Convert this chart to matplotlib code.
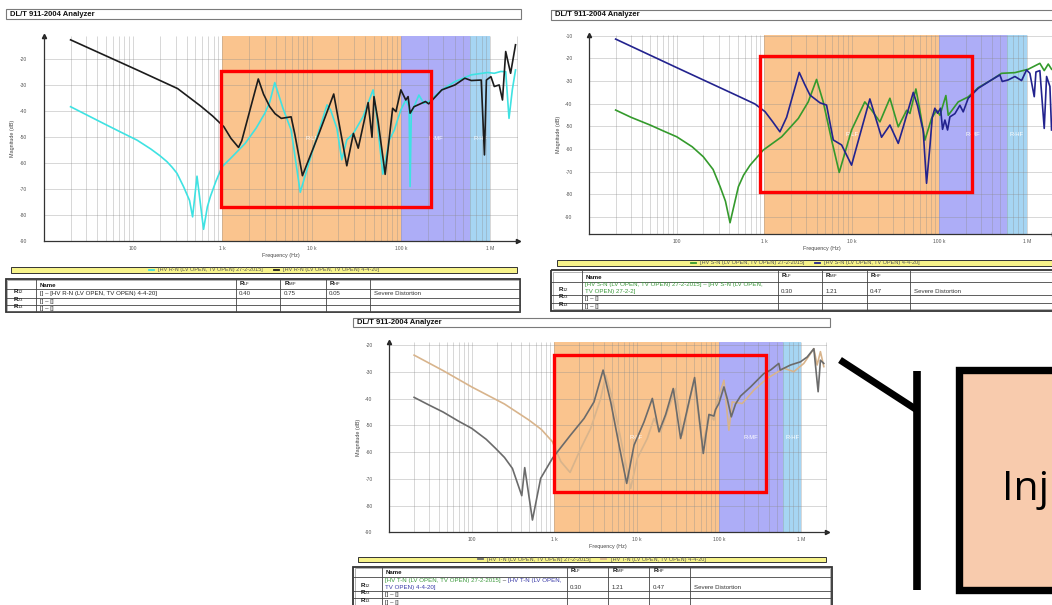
import matplotlib
matplotlib.use("Agg")
import matplotlib.pyplot as plt
import matplotlib.transforms as mtransforms
from matplotlib.patches import Rectangle
from matplotlib.ticker import NullLocator

plt.rcParams["font.family"] = ["Liberation Sans", "DejaVu Sans"]
plt.rcParams["mathtext.fontset"] = "custom"
plt.rcParams["mathtext.rm"] = "Liberation Sans"
plt.rcParams["mathtext.bf"] = "Liberation Sans:bold"

W, H = 1052, 605

# ---- sweep data: frequency (Hz) and magnitude (dB) per winding / test date ----
rn15_f = [20, 47, 71, 111, 158, 200, 240, 275, 311, 369, 430, 465, 521, 617, 680, 735,
          850, 993, 1300, 1810, 2400, 3000, 3400, 3870, 4780, 5900, 7470, 9800, 14900,
          16300, 19200, 21800, 24800, 29400, 37800, 48800, 53100, 62800, 74300, 84500,
          91800, 100000, 113500, 123600, 126800, 130900, 159200, 180700, 205100, 287700,
          403600, 615200, 937600, 1112000, 1315000, 1493000, 1626000, 1770000, 1923000]
rn15_db = [-38.3, -44.8, -47.9, -51.2, -54.6, -57.2, -59.5, -61.7, -64.0, -69.2, -74.5,
           -80.8, -65.1, -85.6, -77.0, -73.0, -67.0, -61.5, -57.5, -52.4, -46.5, -40.8,
           -36.5, -29.0, -38.9, -47.3, -71.3, -57.6, -37.6, -39.5, -46.6, -58.8, -51.1,
           -48.6, -42.1, -31.8, -40.8, -64.3, -51.1, -47.3, -43.4, -39.5, -35.7, -38.3,
           -69.1, -40.8, -33.8, -37.0, -36.3, -31.8, -28.6, -26.0, -25.1, -25.4, -24.7,
           -24.8, -42.8, -31.8, -24.1]

rn20_f = [20, 111, 316, 570, 780, 1040, 1250, 1520, 1650, 2530, 2900, 3400, 3900, 4580,
          5900, 6500, 7900, 12000, 17700, 24800, 29400, 33300, 43000, 47500, 50000, 55300,
          66700, 80900, 88100, 100000, 113500, 120500, 126800, 140300, 188400, 205100,
          287700, 403600, 520000, 615200, 794300, 863000, 907800, 1020000, 1112000,
          1262000, 1374000, 1493000, 1694000, 1923000]
rn20_db = [-12.5, -24.1, -31.3, -38.0, -41.9, -46.0, -50.5, -54.0, -51.5, -27.6, -33.5,
           -38.3, -41.0, -42.8, -42.2, -49.0, -64.9, -49.0, -33.4, -61.1, -48.6, -54.3,
           -36.7, -50.1, -34.4, -43.4, -64.4, -38.9, -40.2, -31.8, -35.7, -34.4, -40.8,
           -38.3, -36.3, -37.2, -31.8, -29.9, -27.3, -28.2, -28.0, -56.9, -28.0, -26.7,
           -30.5, -29.9, -35.7, -17.0, -25.4, -14.4]

sn15_f = [20, 30, 49.5, 70, 100, 150, 201, 260, 313, 360, 406, 506, 580, 689, 977, 1580,
          2450, 3180, 3960, 4720, 5890, 7190, 9950, 14100, 16900, 21000, 27300, 34000,
          42400, 46200, 54100, 60100, 68500, 81700, 93300, 101800, 119100, 126800, 164800,
          214300, 279300, 396300, 515200, 732800, 1040000, 1413000, 1585000, 1762000,
          1923000]
sn15_db = [-42.8, -46.0, -49.4, -52.0, -54.6, -59.0, -63.4, -69.0, -76.6, -83.0, -92.5,
           -76.6, -71.5, -67.1, -60.4, -54.6, -46.5, -39.2, -29.3, -39.2, -56.1, -70.3,
           -51.6, -39.2, -42.9, -48.0, -37.6, -50.2, -42.9, -44.3, -33.5, -42.9, -56.1,
           -46.5, -42.9, -45.1, -36.4, -45.1, -39.2, -37.0, -32.9, -29.5, -26.6, -26.3,
           -24.8, -22.2, -25.4, -22.5, -24.8]

sn20_f = [20, 100, 500, 781, 1020, 1250, 1510, 1800, 2510, 2900, 3330, 4330, 5150, 6150,
          7660, 9950, 16100, 21900, 27300, 34000, 38800, 50500, 56500, 65600, 71600, 78200,
          83200, 89100, 95700, 103500, 109100, 116100, 124500, 132400, 151000, 172200,
          187900, 214300, 279300, 396300, 493200, 524800, 615200, 732800, 873000, 995400,
          1086000, 1219000, 1274000, 1413000, 1585000, 1687000, 1841000, 1923000]
sn20_db = [-11.5, -24.1, -36.6, -40.1, -43.5, -48.0, -52.4, -46.0, -26.2, -31.5, -36.2,
           -39.6, -40.6, -56.0, -58.2, -67.1, -37.9, -54.8, -49.4, -57.5, -50.2, -35.0,
           -40.9, -52.0, -75.1, -59.0, -46.0, -42.0, -44.2, -42.0, -51.3, -47.2, -51.6,
           -45.8, -44.4, -40.7, -43.6, -37.6, -33.2, -29.5, -27.3, -30.2, -29.5, -28.0,
           -29.8, -25.1, -26.6, -36.9, -26.0, -25.4, -50.9, -28.0, -32.4, -51.6]

tn15_f = [20, 30, 45, 70, 100, 150, 195, 250, 312, 405, 440, 546, 687, 955, 1096, 1585,
          2310, 3050, 3930, 4860, 6140, 7600, 9330, 12330, 15560, 18750, 22600, 27900,
          34300, 43300, 50700, 64600, 75700, 86900, 91200, 100000, 115100, 126200, 141300,
          159200, 183200, 242100, 350800, 422700, 533300, 553400, 739600, 977200, 1178000,
          1419000, 1600000, 1706000, 1875000]
tn15_db = [-39.5, -42.3, -45.0, -48.5, -51.1, -55.2, -58.6, -62.0, -66.1, -76.3, -65.8,
           -85.4, -69.8, -62.3, -59.9, -53.6, -47.4, -41.2, -29.3, -41.2, -57.4, -71.7,
           -57.4, -48.7, -39.9, -52.4, -45.9, -36.2, -54.9, -41.2, -32.1, -60.5, -45.9,
           -46.5, -44.0, -41.8, -35.6, -40.0, -46.8, -42.0, -39.0, -35.6, -30.6, -29.3,
           -26.8, -29.3, -27.4, -26.2, -24.4, -21.3, -37.4, -25.6, -26.8]

tn20_f = [20, 45, 100, 250, 495, 700, 955, 1205, 1563, 2100, 2780, 3680, 4230, 5090, 6430,
          8490, 10230, 13520, 16290, 19630, 23660, 29850, 35970, 49770, 62810, 77800,
          86900, 95500, 115100, 132100, 145200, 191900, 265500, 385500, 613800, 810900,
          1072000, 1419000, 1556000, 1706000, 1875000]
tn20_db = [-23.7, -29.5, -35.6, -42.0, -48.0, -51.5, -56.1, -63.5, -67.6, -58.7, -51.1,
           -39.9, -31.2, -39.9, -54.9, -73.6, -62.3, -54.9, -47.4, -52.4, -44.9, -36.2,
           -53.6, -33.1, -57.4, -46.1, -48.0, -41.0, -33.1, -51.8, -41.2, -41.8, -36.8,
           -32.4, -28.6, -29.9, -26.8, -21.3, -27.4, -22.4, -28.0]

# legend / table text
rn_labels = ["[HV R-N (LV OPEN, TV OPEN) 27-2-2015]", "[HV R-N (LV OPEN, TV OPEN) 4-4-20]"]
sn_labels = ["[HV S-N (LV OPEN, TV OPEN) 27-2-2015]", "[HV S-N (LV OPEN, TV OPEN) 4-4-20]"]
tn_labels = ["[HV T-N (LV OPEN, TV OPEN) 27-2-2015]", "[HV T-N (LV OPEN, TV OPEN) 4-4-20]"]
rn_ratios = [0.40, 0.75, 0.05]
sn_ratios = [0.30, 1.21, 0.47]
tn_ratios = [0.30, 1.21, 0.47]
verdict = "Severe Distortion"

# frequency bands (Hz)
band_edges = [1e3, 1e5, 6e5, 1e6]
band_names = ["R-LF", "R-MF", "R-HF"]

CYAN, BLACK = "#3fe2e2", "#1c1c1c"
GREEN, NAVY = "#349a2c", "#23238e"
GREY, TAN = "#6b6b6b", "#d8b48c"
BAND_COLORS = ["#fac48e", "#adadf7", "#a6d5f3"]
YELLOW = "#f7f38a"
TXT_GREEN, TXT_BLUE = "#3c9a3c", "#3a3aa8"

F_MIN, F_MAX = 10, 2.05e6
GRID_F = [k * 10 ** e for e in range(1, 7) for k in range(2, 11) if k * 10 ** e <= 2e6]

fig = plt.figure(figsize=(W / 100, H / 100), dpi=100)
fig.patch.set_facecolor("white")


def px_rect(x0, y0, x1, y1):
    return [x0 / W, 1 - y1 / H, (x1 - x0) / W, (y1 - y0) / H]


def fra_axes(x0, y0, x1, y1, ylim, yticks):
    ax = fig.add_axes(px_rect(x0, y0, x1, y1))
    ax.set_xscale("log")
    ax.set_xlim(F_MIN, F_MAX)
    ax.set_ylim(*ylim)
    for lo, hi, col in zip(band_edges[:-1], band_edges[1:], BAND_COLORS):
        ax.axvspan(lo, hi, color=col, lw=0, zorder=0)
    ax.vlines(GRID_F, *ylim, color="#8c8c8c", alpha=0.4, lw=0.6, zorder=1)
    ax.hlines(yticks, F_MIN, F_MAX, color="#8c8c8c", alpha=0.4, lw=0.6, zorder=1)

    ax.spines[["top", "right"]].set_visible(False)
    for s in ("left", "bottom"):
        ax.spines[s].set_color("#333333")
        ax.spines[s].set_linewidth(0.9)
    ax.plot([1], [0], marker=">", ms=3, color="#222222", transform=ax.transAxes, clip_on=False)
    ax.plot([0], [1], marker="^", ms=3, color="#222222", transform=ax.transAxes, clip_on=False)

    ax.set_yticks(yticks)
    ax.set_yticklabels([f"{v:d}" for v in yticks])
    ax.set_xticks([1e2, 1e3, 1e4, 1e5, 1e6])
    ax.set_xticklabels(["100", "1 k", "10 k", "100 k", "1 M"])
    ax.xaxis.set_minor_locator(NullLocator())
    ax.tick_params(length=0, labelsize=3.6, colors="#555555")
    ax.tick_params(axis="y", pad=12)
    ax.tick_params(axis="x", pad=3.5)
    ax.set_xlabel("Frequency (Hz)", fontsize=3.9, color="#444444", labelpad=1.5)
    ax.set_ylabel("Magnitude (dB)", fontsize=3.9, color="#444444", labelpad=3)

    trans = mtransforms.blended_transform_factory(ax.transData, ax.transAxes)
    for lo, hi, name in zip(band_edges[:-1], band_edges[1:], band_names):
        ax.text((lo * hi) ** 0.5, 0.5, name, transform=trans, color="white",
                fontsize=4.2, ha="center", va="center", zorder=2)
    return ax


def sweep(ax, f, db, color, z):
    ax.plot(f, db, color=color, lw=1.2, zorder=z, solid_joinstyle="round")


# R-N sweep
ax1 = fra_axes(43.7, 35.7, 518, 240.7, (-90, -10.9), list(range(-90, -10, 10)))
sweep(ax1, rn15_f, rn15_db, CYAN, 3)
sweep(ax1, rn20_f, rn20_db, BLACK, 4)

# S-N sweep
ax2 = fra_axes(589.3, 35, 1054, 234.3, (-97.6, -9.7), list(range(-90, 0, 10)))
sweep(ax2, sn15_f, sn15_db, GREEN, 3)
sweep(ax2, sn20_f, sn20_db, NAVY, 4)

# T-N sweep
ax3 = fra_axes(389.3, 342.3, 827, 532.3, (-90, -18.9), list(range(-90, -10, 10)))
sweep(ax3, tn20_f, tn20_db, TAN, 3)
sweep(ax3, tn15_f, tn15_db, GREY, 4)

# pixel-space overlay for frames, legends, tables and callouts
ov = fig.add_axes([0, 0, 1, 1], zorder=10)
ov.set_xlim(0, W)
ov.set_ylim(H, 0)
ov.axis("off")
renderer = fig.canvas.get_renderer()


def put_segments(x, y, segments, size, weight="normal"):
    for txt, col in segments:
        t = ov.text(x, y, txt, color=col, fontsize=size, fontweight=weight,
                    ha="left", va="bottom")
        x = t.get_window_extent(renderer).x1


def title_box(x0, y0, x1, y1):
    ov.add_patch(Rectangle((x0, y0), x1 - x0, y1 - y0, fill=False, ec="#7a7a7a", lw=0.8))
    ov.text(x0 + 4, (y0 + y1) / 2 + 0.4, "DL/T 911-2004 Analyzer", fontsize=5.5,
            fontweight="bold", color="#111111", ha="left", va="center")


def legend_bar(x0, y0, x1, y1, labels, colors):
    ov.add_patch(Rectangle((x0, y0), x1 - x0, y1 - y0, fc=YELLOW, ec="#333333", lw=0.7))
    yc = (y0 + y1) / 2
    texts = [ov.text(0, yc, lab, fontsize=4.0, color="#555555", ha="left", va="center")
             for lab in labels]
    widths = [t.get_window_extent(renderer).width for t in texts]
    total = 2.5 + sum(6.8 + w for w in widths) + 13 * (len(labels) - 1)
    mc = (x0 + x1) / 2 - total / 2 + 2.5
    for t, w, col in zip(texts, widths, colors):
        ov.plot([mc - 2.5, mc + 2.5], [yc, yc], color=col, lw=1.3)
        t.set_x(mc + 6.8)
        mc = mc + 6.8 + w + 13


def rlabel(sub):
    return r"$\mathbf{R}_{\mathrm{" + sub + "}}$"


def draw_table(x_edges, y_edges, rows):
    x0, x1 = x_edges[0], x_edges[-1]
    y0, y1 = y_edges[0], y_edges[-1]
    ov.add_patch(Rectangle((x0, y0), x1 - x0, y1 - y0, fill=False, ec="#333333", lw=1.3))
    ov.add_patch(Rectangle((x0 + 1.5, y0 + 1.5), x1 - x0 - 3, y1 - y0 - 3, fill=False,
                           ec="#777777", lw=0.4))
    for y in y_edges[1:-1]:
        ov.plot([x0, x1], [y, y], color="#444444", lw=0.6)
    for x in x_edges[1:-1]:
        ov.plot([x, x], [y0, y1], color="#444444", lw=0.6)
    for ri, row in enumerate(rows):
        yb = y_edges[ri + 1] - 1.3
        for ci, cell in enumerate(row):
            if not cell:
                continue
            xl = x_edges[ci] + (7 if ci == 0 else 3.5)
            bold = ri == 0 or ci == 0
            for li, line in enumerate(reversed(cell)):
                put_segments(xl, yb - li * 7, line, 4.4, "bold" if bold else "normal")


def table_rows(name_lines, ratios):
    blank = [[("[] \u2013 []", "#222222")]]
    return [
        [None, [[("Name", "#111111")]], [[(rlabel("LF"), "#111111")]],
         [[(rlabel("MF"), "#111111")]], [[(rlabel("HF"), "#111111")]], None],
        [[[(rlabel("12"), "#111111")]], name_lines]
        + [[[(f"{r:.2f}", "#333333")]] for r in ratios] + [[[(verdict, "#333333")]]],
        [[[(rlabel("23"), "#111111")]], blank, None, None, None, None],
        [[[(rlabel("13"), "#111111")]], blank, None, None, None, None],
    ]


# R-N report block
title_box(5.7, 9.3, 521, 19)
legend_bar(11, 266.7, 517, 272.7, rn_labels, [CYAN, BLACK])
draw_table([5.7, 36, 235.7, 280, 325.7, 370, 520], [278.7, 289.3, 297.7, 305, 312.3],
           table_rows([[("[] \u2013 [HV R-N (LV OPEN, TV OPEN) 4-4-20]", "#222222")]],
                      rn_ratios))

# S-N report block
title_box(551, 9.6, 1070, 19.6)
legend_bar(557, 260, 1054, 265.7, sn_labels, [GREEN, NAVY])
draw_table([551, 581.7, 777.7, 821.7, 866.7, 910, 1070], [270.3, 281.7, 295, 302.7, 310.7],
           table_rows([[("[HV S-N (LV OPEN, TV OPEN) 27-2-2015] \u2013 [HV S-N (LV OPEN,",
                         TXT_GREEN)],
                       [("TV OPEN) 27-2-2]", TXT_GREEN)]], sn_ratios))

# T-N report block
title_box(353.3, 318, 830, 327)
legend_bar(358, 556.7, 825.7, 561.7, tn_labels, [GREY, TAN])
draw_table([353.3, 381.7, 566.7, 608.3, 649.3, 690, 831.7], [566.7, 576.7, 591, 598.3, 606],
           table_rows([[("[HV T-N (LV OPEN, TV OPEN) 27-2-2015]", TXT_GREEN),
                        (" \u2013 ", "#222222"), ("[HV T-N (LV OPEN,", TXT_BLUE)],
                       [("TV OPEN) 4-4-20]", TXT_BLUE)]], tn_ratios))

# highlight boxes over the low/mid frequency region
for x0, y0, x1, y1 in [(220.5, 70.5, 430.5, 206.5), (759.5, 56, 972, 192),
                       (553.5, 355, 766, 492)]:
    ov.add_patch(Rectangle((x0, y0), x1 - x0, y1 - y0, fill=False, ec="#ff0000", lw=2.4,
                           zorder=5))

# callout bracket and label box
ov.plot([840, 917], [360, 410], color="black", lw=5, solid_capstyle="butt")
ov.plot([917, 917], [370.7, 590], color="black", lw=5.5, solid_capstyle="butt")
ov.add_patch(Rectangle((958.7, 369.7), 200, 220.6, fc="#f8cbad", ec="black", lw=5.3))
ov.text(1002, 500, "Inj", fontsize=29.5, family=["Open Sans", "DejaVu Sans"],
        color="black", ha="left", va="baseline")

fig.savefig("out.png", dpi=100, facecolor="white")
